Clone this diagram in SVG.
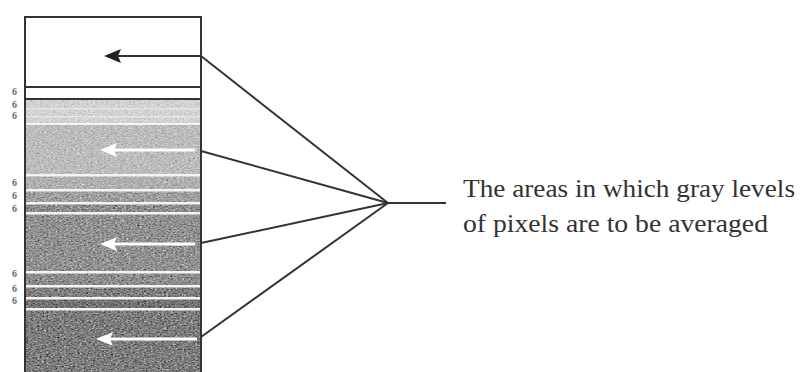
<svg xmlns="http://www.w3.org/2000/svg" width="802" height="372" viewBox="0 0 802 372">
<style>
.frame{fill:none;stroke:#333;stroke-width:2}
.conn{stroke:#333;stroke-width:2;fill:none}
.wline{stroke:#fff;stroke-width:3}
.wstripe{fill:#f4f4f4}
.mark{font-family:"Liberation Serif","Times New Roman",serif;font-size:10px;font-weight:bold;fill:#666}
.label{font-family:"Liberation Serif","Times New Roman",serif;font-size:26px;fill:#333}
</style>
<defs>
<filter id="grain" x="0" y="0" width="100%" height="100%" color-interpolation-filters="sRGB">
<feTurbulence type="fractalNoise" baseFrequency="0.45 0.75" numOctaves="2" seed="7" result="n"/>
<feColorMatrix in="n" type="matrix" values="0.33 0.33 0.33 0 0 0.33 0.33 0.33 0 0 0.33 0.33 0.33 0 0 0 0 0 0 1" result="g"/>
<feComponentTransfer in="g" result="c"><feFuncR type="linear" slope="1.5" intercept="-0.25"/><feFuncG type="linear" slope="1.5" intercept="-0.25"/><feFuncB type="linear" slope="1.5" intercept="-0.25"/></feComponentTransfer>
<feBlend in="c" in2="SourceGraphic" mode="overlay" result="m"/>
<feComposite in="m" in2="SourceGraphic" operator="in"/>
</filter>
</defs>
<rect width="802" height="372" fill="#fff"/>
<g id="column">
<g filter="url(#grain)">
<rect x="26" y="100" width="175" height="24" fill="#d2d2d2"/>
<rect x="26" y="124" width="175" height="51" fill="#bdbdbd"/>
<rect x="26" y="175" width="175" height="15" fill="#b0b0b0"/>
<rect x="26" y="190" width="175" height="13" fill="#a0a0a0"/>
<rect x="26" y="203" width="175" height="10" fill="#8e8e8e"/>
<rect x="26" y="213" width="175" height="59" fill="#929292"/>
<rect x="26" y="272" width="175" height="14" fill="#8e8e8e"/>
<rect x="26" y="286" width="175" height="12" fill="#808080"/>
<rect x="26" y="298" width="175" height="11" fill="#747474"/>
<rect x="26" y="309" width="175" height="63" fill="#7e7e7e"/>
</g>
<g>
<rect class="wstripe" x="26" y="108" width="175" height="1.5" opacity="0.6"/>
<rect class="wstripe" x="26" y="116" width="175" height="1.5" opacity="0.6"/>
<rect class="wstripe" x="26" y="123" width="175" height="2"/>
<rect class="wstripe" x="26" y="174" width="175" height="2.5"/>
<rect class="wstripe" x="26" y="189" width="175" height="2.5"/>
<rect class="wstripe" x="26" y="202" width="175" height="2.5"/>
<rect class="wstripe" x="26" y="212" width="175" height="2.5"/>
<rect class="wstripe" x="26" y="271" width="175" height="2.5"/>
<rect class="wstripe" x="26" y="285" width="175" height="2.5"/>
<rect class="wstripe" x="26" y="297" width="175" height="2.5"/>
<rect class="wstripe" x="26" y="308" width="175" height="2.5"/>
</g>
<line x1="26" y1="87" x2="201" y2="87" stroke="#333" stroke-width="2"/>
<line x1="26" y1="99" x2="201" y2="99" stroke="#333" stroke-width="2"/>
<path class="frame" d="M25,373 V17 H201 V373"/>
</g>
<g id="marks">
<text class="mark" x="12" y="95">6</text>
<text class="mark" x="12" y="108">6</text>
<text class="mark" x="12" y="119">6</text>
<text class="mark" x="12" y="186">6</text>
<text class="mark" x="12" y="199">6</text>
<text class="mark" x="12" y="212">6</text>
<text class="mark" x="12" y="277">6</text>
<text class="mark" x="12" y="292">6</text>
<text class="mark" x="12" y="304">6</text>
</g>
<g id="arrows">
<line x1="200" y1="56" x2="116" y2="56" stroke="#333" stroke-width="2"/>
<polygon points="104,56 121,49 118,56 121,63" fill="#222"/>
<line class="wline" x1="195" y1="150" x2="112" y2="150"/>
<polygon points="100,150 117,143 114,150 117,157" fill="#fff"/>
<line class="wline" x1="195" y1="244" x2="112" y2="244"/>
<polygon points="100,244 117,237 114,244 117,251" fill="#fff"/>
<line class="wline" x1="197" y1="339" x2="109" y2="339"/>
<polygon points="96,339 113,332 110,339 113,346" fill="#fff"/>
</g>
<g id="connectors">
<line class="conn" x1="201" y1="56" x2="388" y2="203"/>
<line class="conn" x1="201" y1="151" x2="388" y2="203"/>
<line class="conn" x1="201" y1="243" x2="388" y2="203"/>
<line class="conn" x1="201" y1="337" x2="388" y2="203"/>
<line class="conn" x1="388" y1="203" x2="446" y2="203"/>
</g>
<g id="label">
<text class="label" x="463" y="197" textLength="332" lengthAdjust="spacingAndGlyphs">The areas in which gray levels</text>
<text class="label" x="463" y="232" textLength="305" lengthAdjust="spacingAndGlyphs">of pixels are to be averaged</text>
</g>
</svg>
